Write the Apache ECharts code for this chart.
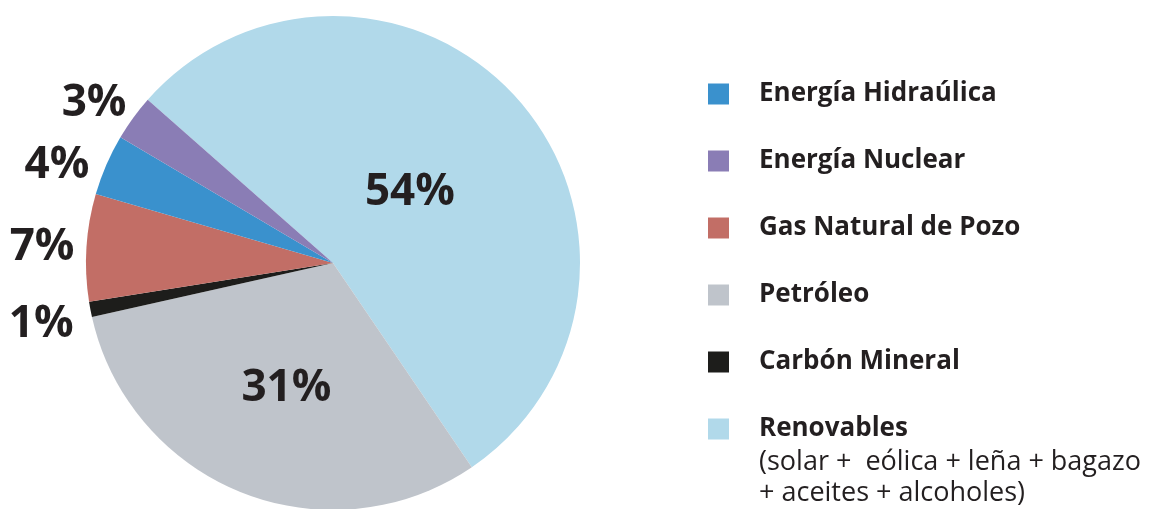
<!DOCTYPE html>
<html>
<head>
<meta charset="utf-8">
<script src="https://cdn.jsdelivr.net/npm/echarts@6/dist/echarts.min.js"></script>
<style>
  html, body { margin: 0; padding: 0; background: #fff; }
  #chart { width: 1153px; height: 509px; }
</style>
</head>
<body>
<div id="chart"></div>
<script>
// datos del gráfico (orden de los sectores, en sentido horario)
const categories = ['Renovables', 'Petróleo', 'Carbón Mineral', 'Gas Natural de Pozo', 'Energía Hidraúlica', 'Energía Nuclear'];
const values = [54, 31, 1, 7, 4, 3];
const colors = ['#b1d9ea', '#bfc4cb', '#1d1d1b', '#c26e66', '#3a91cd', '#8a7db5'];
// etiquetas dentro del sector (los grandes) o fuera
const insideLabel = [true, true, false, false, false, false];
// pequeño ajuste de las etiquetas [dx, dy]
const labelShift = [[-18, 13], [0, 8], [-5, 13], [0, 1], [-6, 5], [3, -7]];
// orden de la leyenda
const legendOrder = ['Energía Hidraúlica', 'Energía Nuclear', 'Gas Natural de Pozo', 'Petróleo', 'Carbón Mineral', 'Renovables'];
const renovablesNote = '(solar +  eólica + leña + bagazo\n+ aceites + alcoholes)';

const textColor = '#231f20';
const fontFam = '"Open Sans", "Noto Sans", sans-serif';

let myChart = echarts.init(document.getElementById('chart'));

const pieData = categories.map((name, i) => ({
  name: name,
  value: values[i],
  itemStyle: { color: colors[i] },
  label: { position: insideLabel[i] ? 'inside' : 'outside' }
}));

const option = {
  animation: false,
  legend: {
    orient: 'vertical',
    left: 703,
    top: 76,
    data: legendOrder,
    icon: 'rect',
    itemWidth: 21,
    itemHeight: 21,
    itemGap: 41,
    selectedMode: false,
    textStyle: {
      color: textColor,
      fontFamily: fontFam,
      fontWeight: 'bold',
      fontSize: 26,
      lineHeight: 21,
      padding: [0, 0, 0, 25]
    }
  },
  graphic: [
    {
      type: 'text',
      left: 759,
      top: 447,
      style: {
        text: renovablesNote,
        fill: textColor,
        font: '27px "Open Sans", "Noto Sans", sans-serif',
        lineHeight: 31
      }
    }
  ],
  series: [
    {
      type: 'pie',
      center: [333, 263],
      radius: 247,
      startAngle: 138.6,
      clockwise: true,
      avoidLabelOverlap: false,
      emphasis: { disabled: true },
      label: {
        show: true,
        formatter: '{c}%',
        color: textColor,
        fontFamily: fontFam,
        fontWeight: 'bold',
        fontSize: 44,
        distanceToLabelLine: 0
      },
      labelLine: {
        show: false,
        length: 12,
        length2: 0
      },
      labelLayout: function (params) {
        const s = labelShift[params.dataIndex];
        return { dx: s[0], dy: s[1] };
      },
      data: pieData
    }
  ]
};
myChart.setOption(option);
</script>
</body>
</html>
